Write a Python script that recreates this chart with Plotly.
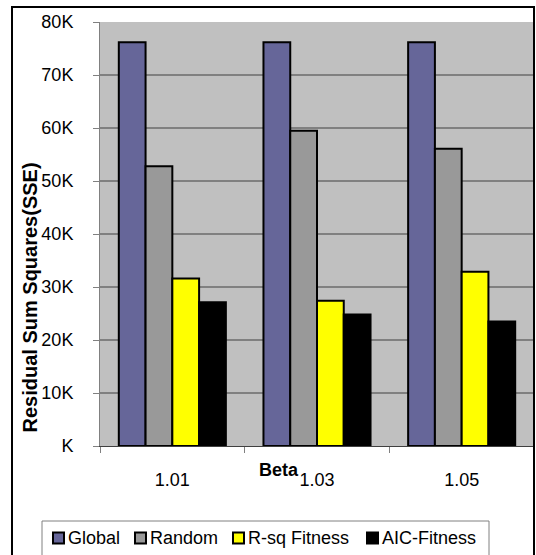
import plotly.graph_objects as go

# Data
betas = ["1.01", "1.03", "1.05"]
series_names = ["Global", "Random", "R-sq Fitness", "AIC-Fitness"]
global_sse = [76200, 76200, 76200]
random_sse = [52800, 59500, 56100]
rsq_fitness_sse = [31600, 27400, 32900]
aic_fitness_sse = [27100, 24800, 23500]
y_tick_values = [0, 10000, 20000, 30000, 40000, 50000, 60000, 70000, 80000]
y_tick_labels = ["K", "10K", "20K", "30K", "40K", "50K", "60K", "70K", "80K"]

series_values = [global_sse, random_sse, rsq_fitness_sse, aic_fitness_sse]
series_colors = ["#666699", "#999999", "#FFFF00", "#000000"]

W, H = 536, 555
ML, MR, MT, MB = 100, 2, 22, 109
PW, PH = W - ML - MR, H - MT - MB
FONT = "Liberation Sans, Arial, sans-serif"


def px_x(x):
    return (x - ML) / PW


def px_y(y):
    return (H - MB - y) / PH


fig = go.Figure()
for name, vals, color in zip(series_names, series_values, series_colors):
    fig.add_trace(go.Bar(
        x=betas, y=vals, name=name,
        marker=dict(color=color, line=dict(color="#000000", width=2)),
        showlegend=False,
    ))

shapes = [
    # outer chart frame
    dict(type="rect", xref="paper", yref="paper",
         x0=px_x(12), x1=px_x(534), y0=px_y(560), y1=px_y(7),
         line=dict(color="#000000", width=2), layer="above"),
    # legend frame
    dict(type="rect", xref="paper", yref="paper",
         x0=px_x(42), x1=px_x(489), y0=px_y(560), y1=px_y(521),
         line=dict(color="#808080", width=1), layer="above"),
]

annotations = [
    dict(text="<b>Residual Sum Squares(SSE)</b>", xref="paper", yref="paper",
         x=px_x(29.5), y=px_y(298), textangle=-90, showarrow=False,
         font=dict(family=FONT, size=20, color="#000000"),
         xanchor="center", yanchor="middle"),
    dict(text="<b>Beta</b>", xref="paper", yref="paper",
         x=px_x(279), y=px_y(470), showarrow=False,
         font=dict(family=FONT, size=18, color="#000000"),
         xanchor="center", yanchor="middle"),
]

# legend entries
legend_x = [53, 135, 233, 367]
legend_cy = 538
for lx, name, color in zip(legend_x, series_names, series_colors):
    shapes.append(dict(type="rect", xref="paper", yref="paper",
                       x0=px_x(lx), x1=px_x(lx + 11),
                       y0=px_y(legend_cy + 5.5), y1=px_y(legend_cy - 5.5),
                       fillcolor=color, line=dict(color="#000000", width=2),
                       layer="above"))
    annotations.append(dict(text=name, xref="paper", yref="paper",
                            x=px_x(lx + 13), y=px_y(legend_cy),
                            showarrow=False, xanchor="left", yanchor="middle",
                            font=dict(family=FONT, size=18, color="#000000")))

fig.update_layout(
    width=W, height=H,
    margin=dict(l=ML, r=MR, t=MT, b=MB, pad=0),
    barmode="group", bargap=0.26, bargroupgap=0,
    paper_bgcolor="#FFFFFF", plot_bgcolor="#C0C0C0",
    font=dict(family=FONT, size=18, color="#000000"),
    shapes=shapes, annotations=annotations,
    showlegend=False,
)
fig.update_xaxes(
    type="category", tickson="boundaries",
    ticks="outside", ticklen=6, tickcolor="#808080", tickwidth=1,
    showline=True, linecolor="#404040", linewidth=1,
    showgrid=False, ticklabelstandoff=17,
    tickfont=dict(family=FONT, size=18, color="#000000"),
)
fig.update_yaxes(
    range=[0, 80000], tickvals=y_tick_values, ticktext=y_tick_labels,
    ticks="outside", ticklen=6, tickcolor="#808080", tickwidth=1,
    showline=True, linecolor="#808080", linewidth=1,
    showgrid=True, gridcolor="#808080", gridwidth=1.5,
    zeroline=False, ticklabelstandoff=16,
    tickfont=dict(family=FONT, size=18, color="#000000"),
)

fig.write_html("out.html")
